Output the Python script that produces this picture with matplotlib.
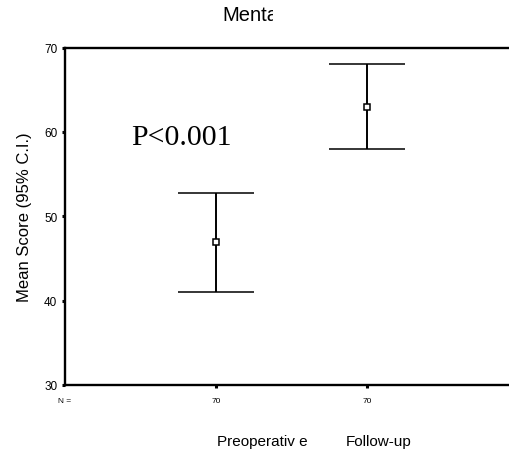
import matplotlib
matplotlib.use("Agg")
import matplotlib.pyplot as plt
from matplotlib.transforms import Bbox

# group means with 95% confidence limits
groups = ["Preoperativ e", "Follow-up"]
means = [47.0, 62.9]
ci_low = [41.0, 58.0]
ci_high = [52.8, 68.0]
counts = [70, 70]
yticks = [30, 40, 50, 60, 70]

W, H = 509, 456
fig = plt.figure(figsize=(W / 100, H / 100), dpi=100)
plt.rcParams["font.family"] = "Liberation Sans"

# axis frame: left edge at 65px, one group every 151px, right side runs off the canvas
left, top, bottom = 65, 48.5, 386
ax = fig.add_axes([left / W, (H - bottom) / H, 3 * 151 / W, (bottom - top) / H])
ax.set_xlim(0, 3)
ax.set_ylim(30, 70)

x = [1, 2]
yerr = [[m - lo for m, lo in zip(means, ci_low)],
        [hi - m for m, hi in zip(means, ci_high)]]
ax.errorbar(x, means, yerr=yerr, fmt="s", color="black", ecolor="black",
            elinewidth=1.4, capsize=27.5, capthick=1.4,
            markersize=4.5, markerfacecolor="white", markeredgewidth=1.1)

for s in ax.spines.values():
    s.set_linewidth(1.7)
ax.spines["right"].set_visible(False)

ax.set_yticks(yticks)
ax.tick_params(axis="y", direction="out", length=2.5, width=2.2, labelsize=8.5, pad=3)
ax.set_xticks(x)
ax.set_xticklabels([str(c) for c in counts])
ax.tick_params(axis="x", direction="out", length=2.5, width=2.2, labelsize=6, pad=6)

ax.text(0, -0.035, "N =", transform=ax.get_xaxis_transform(), ha="center",
        va="top", fontsize=6)

ax.set_ylabel("Mean Score (95% C.I.)", fontsize=12, labelpad=9)

ax.text(131.5, H - 145, "P<0.001", transform=None, fontsize=21.5,
        family="Liberation Serif", ha="left", va="baseline")

# group names under the counts row
fig.text(262.5 / W, 1 - 442 / H, groups[0], ha="center", va="center", fontsize=11)
fig.text(378.5 / W, 1 - 442 / H, groups[1], ha="center", va="center", fontsize=11)

# title, cut off on the right
title = fig.text(222.5 / W, 1 - 15.5 / H, "Mental", ha="left", va="center", fontsize=14.5)
title.set_clip_box(Bbox([[0, 0], [273, H]]))
title.set_clip_on(True)

fig.savefig("out.png", dpi=100)
